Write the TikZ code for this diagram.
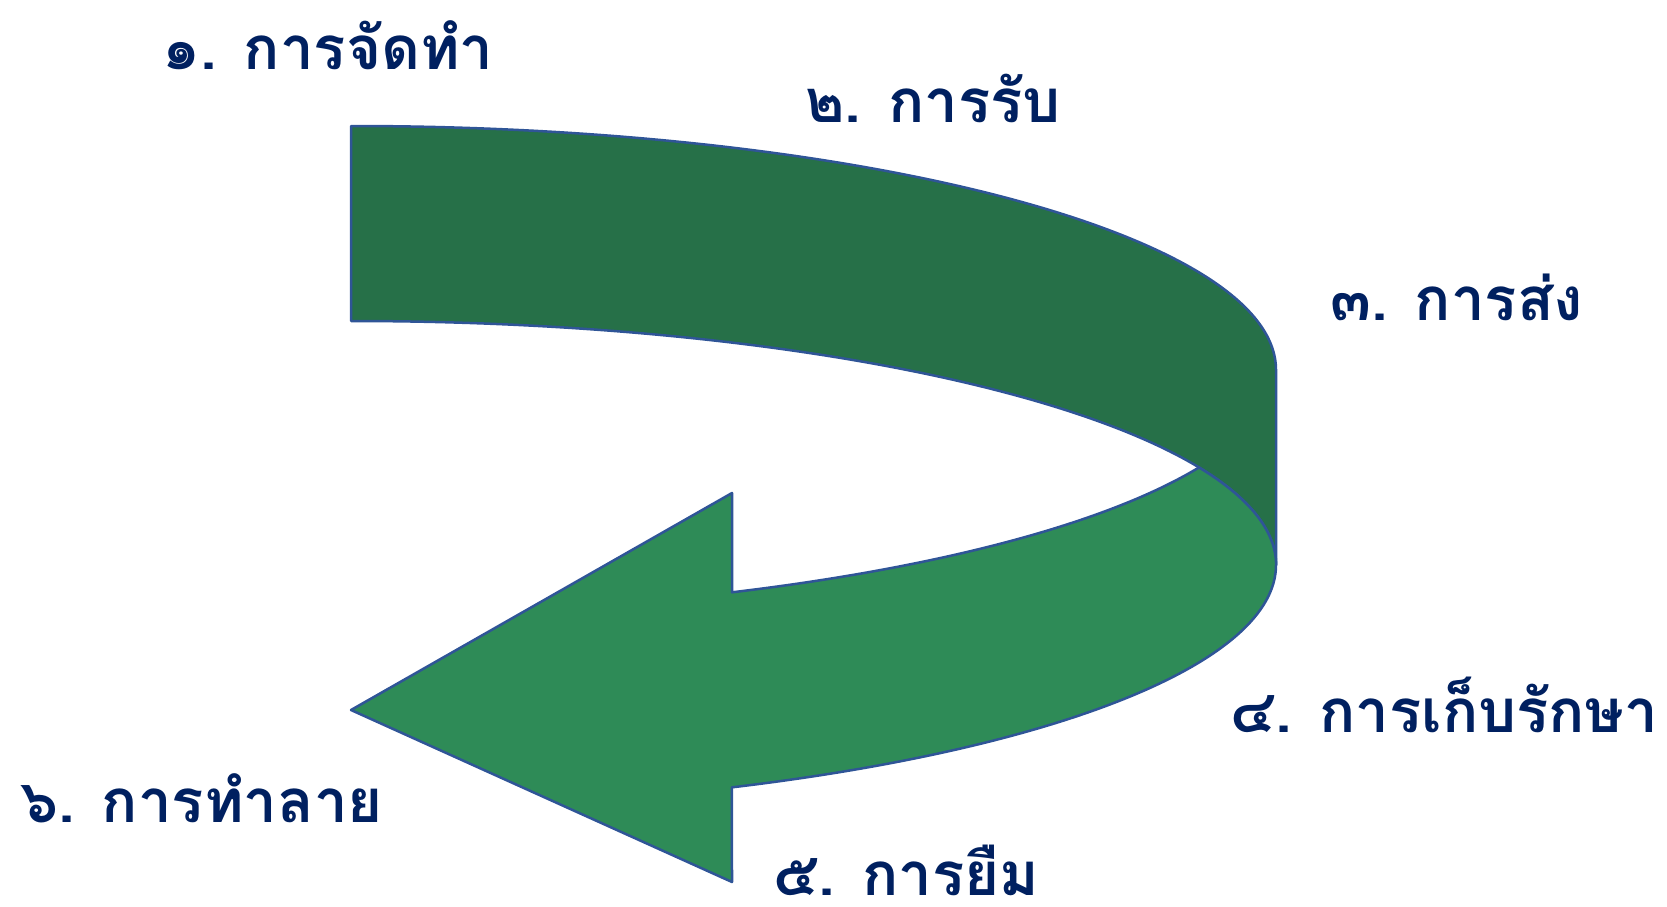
\documentclass[tikz,border=0pt]{standalone}
\usepackage{fontspec}
\newfontfamily\thaifont[Script=Thai]{Loma}
\definecolor{bandback}{HTML}{267048}
\definecolor{bandfront}{HTML}{2E8B57}
\definecolor{bandline}{HTML}{2F5597}
\definecolor{labelblue}{HTML}{002060}

\begin{document}
\begin{tikzpicture}[
    x=1pt, y=1pt,
    band/.style={draw=bandline, line width=2.5pt, line join=round},
    steplabel/.style={anchor=base west, inner sep=0pt, text=labelblue, font=\thaifont\bfseries\fontsize{60}{70}\selectfont}
]
\useasboundingbox (0,0) rectangle (1667,-907);

% Back of the band
\draw[band, fill=bandback] (351,-126)
    arc[start angle=90, end angle=0, x radius=925, y radius=244]
    -- (1276,-565)
    arc[start angle=0, end angle=90, x radius=925, y radius=244]
    -- cycle;

% Front of the band with the arrow head
\draw[band, fill=bandfront] (1276,-565)
    arc[start angle=0, end angle=-65.68, x radius=925, y radius=244]
    -- (732,-882) -- (351,-710) -- (732,-493) -- (732,-592.3)
    arc[start angle=-65.68, end angle=-23.55, x radius=925, y radius=244]
    arc[start angle=23.55, end angle=0, x radius=925, y radius=244]
    -- cycle;

% Steps
\node[steplabel] (make) at (162,-70) {๑. การจัดทำ};
\node[steplabel] (receive) at (805,-122) {๒. การรับ};
\node[steplabel] (send) at (1330,-320) {๓. การส่ง};
\node[steplabel] (store) at (1230,-732) {๔. การเก็บรักษา};
\node[steplabel] (lend) at (773,-895) {๕. การยืม};
\node[steplabel] (destroy) at (20,-822) {๖. การทำลาย};

\end{tikzpicture}
\end{document}
